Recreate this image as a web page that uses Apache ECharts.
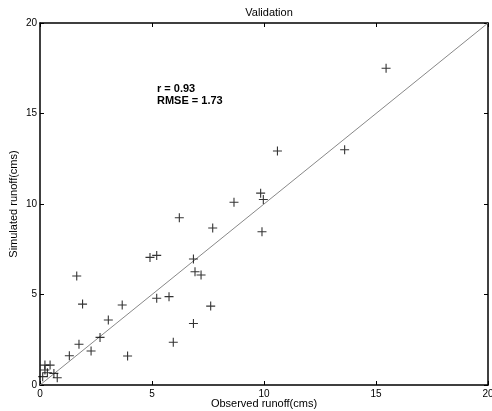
<!DOCTYPE html>
<html>
<head>
<meta charset="utf-8">
<script src="https://cdn.jsdelivr.net/npm/echarts@6/dist/echarts.min.js"></script>
<style>
  html, body { margin: 0; padding: 0; background: #fff; }
  #chart { width: 492px; height: 411px; }
</style>
</head>
<body>
<div id="chart"></div>
<script>
// observed vs simulated runoff (cms)
const observed = [15.45, 10.6, 13.6, 9.85, 9.97, 9.91, 8.66, 6.22, 7.71, 4.91, 5.21, 6.85,
  1.64, 6.92, 7.19, 1.9, 3.67, 5.21, 5.76, 7.62, 3.05, 6.85, 2.68, 1.74, 5.95, 2.28, 1.31, 3.91,
  0.22, 0.45, 0.22, 0.12, 0.33, 0.62, 0.77];
const simulated = [17.5, 12.93, 13.0, 10.6, 10.25, 8.47, 10.1, 9.24, 8.67, 7.05, 7.16, 6.96,
  6.02, 6.26, 6.08, 4.47, 4.42, 4.79, 4.88, 4.36, 3.59, 3.4, 2.63, 2.25, 2.36, 1.88, 1.62, 1.6,
  1.1, 1.1, 0.83, 0.46, 0.68, 0.64, 0.4];
const oneToOne = [[0, 0], [20, 20]];
const axisTicks = [0, 5, 10, 15, 20];
const statsText = ["r = 0.93", "RMSE = 1.73"];

const chart = echarts.init(document.getElementById("chart"));
const font = "Liberation Sans, Arial, sans-serif";

const baseAxis = {
  type: "value",
  min: 0,
  max: 20,
  interval: 5,
  splitLine: { show: false },
  axisLine: { show: true, onZero: false, lineStyle: { color: "#000", width: 1.5 } },
  axisTick: { show: true, inside: true, length: 4, lineStyle: { color: "#000" } },
};

const option = {
  animation: false,
  title: {
    text: "Validation",
    left: 264,
    top: 2,
    textAlign: "center",
    textStyle: { fontFamily: font, fontSize: 11, fontWeight: "normal", color: "#000" },
  },
  grid: { left: 40, right: 4, top: 23, bottom: 26, containLabel: false, outerBoundsMode: "none" },
  xAxis: [
    Object.assign({}, baseAxis, {
      position: "bottom",
      name: "Observed runoff(cms)",
      nameLocation: "middle",
      nameGap: 13,
      nameMoveOverlap: false,
      nameTextStyle: { fontFamily: font, fontSize: 11, color: "#000" },
      axisLabel: {
        fontFamily: font, fontSize: 10, color: "#000", margin: 4,
        formatter: (v) => (axisTicks.includes(v) ? String(v) : ""),
      },
    }),
    Object.assign({}, baseAxis, { position: "top", axisLabel: { show: false } }),
  ],
  yAxis: [
    Object.assign({}, baseAxis, {
      position: "left",
      name: "Simulated runoff(cms)",
      nameLocation: "middle",
      nameGap: 21,
      nameMoveOverlap: false,
      nameTextStyle: { fontFamily: font, fontSize: 11, color: "#000" },
      axisLabel: {
        fontFamily: font, fontSize: 10, color: "#000", margin: 3,
        formatter: (v) => (axisTicks.includes(v) ? String(v) : ""),
      },
    }),
    Object.assign({}, baseAxis, { position: "right", axisLabel: { show: false } }),
  ],
  graphic: [
    {
      type: "text",
      left: 157,
      top: 83,
      style: {
        text: statsText.join("\n"),
        font: "bold 11px " + font,
        fill: "#000",
        lineHeight: 12,
      },
    },
  ],
  series: [
    {
      type: "line",
      data: oneToOne,
      symbol: "none",
      lineStyle: { color: "#888", width: 1 },
      z: 1,
    },
    {
      type: "scatter",
      data: observed.map((x, i) => [x, simulated[i]]),
      symbol: "path://M0,5L10,5M5,0L5,10",
      symbolSize: 9,
      itemStyle: { color: "none", borderColor: "#000", borderWidth: 1.1 },
      z: 2,
    },
  ],
};

chart.setOption(option);
</script>
</body>
</html>
